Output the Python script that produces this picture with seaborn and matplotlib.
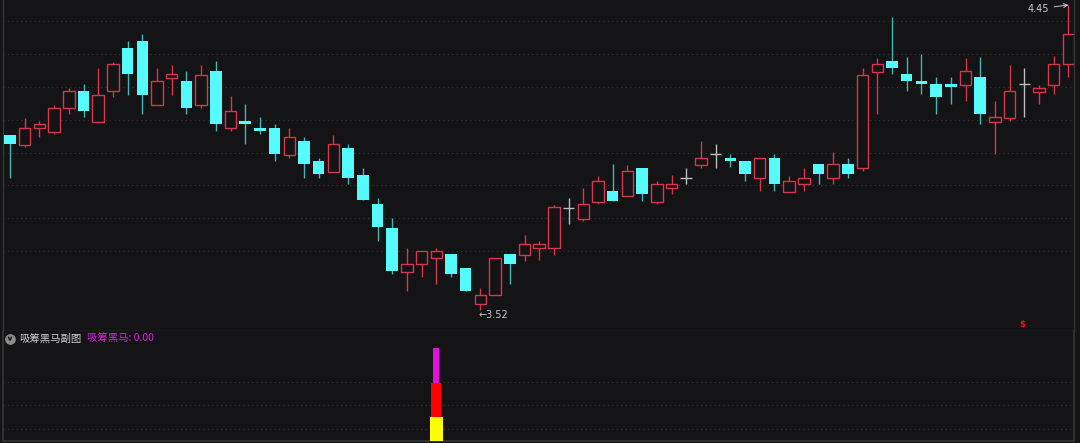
import numpy as np
import pandas as pd
import seaborn as sns
import matplotlib
matplotlib.use("Agg")
import matplotlib.pyplot as plt

# daily prices
opens = [4.054, 4.023, 4.075, 4.063, 4.136, 4.188, 4.093, 4.188, 4.319, 4.340,
         4.145, 4.227, 4.218, 4.145, 4.249, 4.075, 4.096, 4.075, 4.075, 3.993,
         4.035, 3.974, 3.941, 4.014, 3.932, 3.843, 3.770, 3.636, 3.660, 3.679,
         3.691, 3.648, 3.538, 3.566, 3.691, 3.688, 3.709, 3.709, 3.831, 3.797,
         3.849, 3.883, 3.868, 3.953, 3.849, 3.892, 3.922, 3.962, 3.996, 3.983,
         3.974, 3.922, 3.983, 3.880, 3.904, 3.965, 3.922, 3.965, 3.953, 4.246,
         4.279, 4.240, 4.218, 4.209, 4.209, 4.206, 4.230, 4.093, 4.105, 4.209,
         4.185, 4.206, 4.270]
closes = [4.026, 4.075, 4.087, 4.136, 4.188, 4.127, 4.176, 4.270, 4.240, 4.176,
          4.218, 4.240, 4.136, 4.237, 4.087, 4.127, 4.087, 4.066, 3.996, 4.048,
          3.965, 3.935, 4.026, 3.922, 3.855, 3.773, 3.639, 3.660, 3.700, 3.700,
          3.630, 3.578, 3.566, 3.679, 3.660, 3.721, 3.721, 3.834, 3.831, 3.843,
          3.913, 3.852, 3.944, 3.874, 3.904, 3.904, 3.922, 3.983, 3.996, 3.974,
          3.935, 3.983, 3.904, 3.913, 3.922, 3.935, 3.965, 3.935, 4.237, 4.270,
          4.258, 4.218, 4.209, 4.169, 4.200, 4.249, 4.118, 4.108, 4.188, 4.209,
          4.197, 4.270, 4.362]
highs = [4.054, 4.105, 4.096, 4.145, 4.197, 4.209, 4.258, 4.276, 4.340, 4.362,
         4.258, 4.267, 4.249, 4.267, 4.279, 4.172, 4.148, 4.108, 4.087, 4.075,
         4.048, 3.983, 4.054, 4.026, 3.953, 3.862, 3.801, 3.709, 3.700, 3.709,
         3.691, 3.648, 3.587, 3.679, 3.691, 3.749, 3.730, 3.840, 3.862, 3.892,
         3.929, 3.965, 3.962, 3.953, 3.913, 3.932, 3.953, 4.035, 4.026, 3.996,
         3.974, 3.983, 3.996, 3.929, 3.953, 3.965, 4.002, 3.983, 4.258, 4.288,
         4.413, 4.291, 4.301, 4.230, 4.230, 4.288, 4.291, 4.157, 4.267, 4.258,
         4.206, 4.294, 4.450]
lows = [3.922, 4.017, 4.048, 4.057, 4.118, 4.108, 4.093, 4.169, 4.176, 4.118,
        4.145, 4.176, 4.118, 4.136, 4.066, 4.066, 4.026, 4.057, 3.974, 3.983,
        3.922, 3.922, 3.941, 3.904, 3.855, 3.730, 3.630, 3.578, 3.621, 3.599,
        3.621, 3.578, 3.520, 3.566, 3.599, 3.669, 3.672, 3.688, 3.782, 3.791,
        3.843, 3.852, 3.868, 3.852, 3.843, 3.874, 3.904, 3.953, 3.953, 3.956,
        3.913, 3.883, 3.883, 3.880, 3.883, 3.904, 3.904, 3.922, 3.944, 4.118,
        4.240, 4.188, 4.179, 4.118, 4.148, 4.157, 4.087, 3.996, 4.096, 4.108,
        4.148, 4.179, 4.230]

# indicator sub-chart (one signal day)
signal_day = [29]
yellow_vals = [24]
red_vals = [58]
magenta_vals = [93]
indicator_name = "吸筹黑马副图"
indicator_label = "吸筹黑马: 0.00"

df = pd.DataFrame({"open": opens, "high": highs, "low": lows, "close": closes})
df["idx"] = np.arange(len(df))

bg = "#141315"
up_col = "#d8364b"
down_col = "#55fbfb"
down_wick = "#44b6b6"
flat_col = "#bdbdbd"
frame_col = "#353535"
grid_col = "#363636"

sns.set_theme(style="dark", rc={"axes.facecolor": bg, "figure.facecolor": bg,
                                "axes.edgecolor": frame_col, "axes.grid": False})
plt.rcParams["font.family"] = ["Noto Sans CJK SC", "DejaVu Sans"]

fig = plt.figure(figsize=(10.8, 4.43), dpi=100)
W, H = 1080, 443
ax = fig.add_axes([3 / W, (H - 331) / H, 1071 / W, 331 / H])
ax2 = fig.add_axes([3 / W, (H - 441) / H, 1071 / W, 110 / H])

step = 14.70
ax.set_xlim((3 - 10) / step, (1074 - 10) / step)
ax.set_ylim(3.456, 4.465)

bw = 0.78
for _, r in df.iterrows():
    x = r["idx"]
    o, c, h, l = r["open"], r["close"], r["high"], r["low"]
    if c > o:
        ax.vlines(x, l, h, color=up_col, lw=1.0, zorder=2)
        ax.bar(x, c - o, bottom=o, width=bw, facecolor=bg, edgecolor=up_col,
               lw=1.0, zorder=3)
    elif c < o:
        ax.vlines(x, l, h, color=down_wick, lw=1.0, zorder=2)
        ax.bar(x, max(o - c, 0.003), bottom=c, width=bw, color=down_col,
               lw=0, zorder=3)
    else:
        ax.vlines(x, l, h, color=flat_col, lw=1.0, zorder=2)
        ax.hlines(o, x - bw / 2, x + bw / 2, color=flat_col, lw=1.0, zorder=3)

# grid and frame
ax.set_yticks(np.arange(3.7, 4.41, 0.1))
ax.set_xticks([])
ax.grid(axis="y", color=grid_col, linestyle=(0, (1, 3)), lw=0.8)
ax.tick_params(axis="y", length=0, labelleft=False)
ax.set_yticks(np.linspace(4.337, 3.584, 8), minor=True)
ax.tick_params(axis="y", which="minor", length=3, color=frame_col, direction="in")
for s in ["left", "right", "bottom"]:
    ax.spines[s].set_visible(True)
    ax.spines[s].set_color(frame_col)
    ax.spines[s].set_linewidth(1.0)
ax.spines["top"].set_visible(False)
ax.spines["bottom"].set_color("#3c3c3c")

# high / low markers
i_hi = int(np.argmax(highs))
i_lo = int(np.argmin(lows))
ax.annotate(f"{max(highs):.2f}", xy=(i_hi, max(highs)),
            xytext=(i_hi - 2.75, max(highs) - 0.012), color="#c8c8c8",
            fontsize=7, va="center", ha="left", family=["DejaVu Sans"],
            arrowprops=dict(arrowstyle="->", color="#c8c8c8", lw=0.7,
                            shrinkA=1, shrinkB=0))
ax.text(i_lo - 0.1, min(lows) - 0.015, f"←{min(lows):.2f}", color="#c8c8c8",
        fontsize=7, va="center", ha="left", family=["DejaVu Sans"])
ax.text(68.9, 3.461, "$", color="#e01818", fontsize=6.5, fontweight="bold",
        ha="center", va="bottom", family=["DejaVu Sans"])

# indicator panel
ax2.set_xlim(ax.get_xlim())
ax2.set_ylim(0, 110)
ax2.bar(signal_day, magenta_vals, width=0.41, color="#e010e0", lw=0, zorder=3)
ax2.bar(signal_day, red_vals, width=0.68, color="#ff0000", lw=0, zorder=4)
ax2.bar(signal_day, yellow_vals, width=0.88, color="#ffff00", lw=0, zorder=5)
ax2.set_yticks([12, 36, 59])
ax2.set_xticks([])
ax2.grid(axis="y", color=grid_col, linestyle=(0, (1, 3)), lw=0.8)
ax2.tick_params(axis="y", length=0, labelleft=False)
for s in ["left", "right", "bottom"]:
    ax2.spines[s].set_visible(True)
    ax2.spines[s].set_color(frame_col)
ax2.spines["top"].set_visible(False)

ax2.scatter([0.0065], [0.927], s=45, color="#8c8c8c", transform=ax2.transAxes,
            zorder=6, clip_on=False)
ax2.plot([0.0050, 0.0065, 0.0080], [0.945, 0.915, 0.945], color="#1a1a1a",
         lw=1.0, transform=ax2.transAxes, zorder=7)
ax2.text(0.0149, 0.927, indicator_name, color="#d2d2d2", fontsize=7.5,
         va="center", ha="left", transform=ax2.transAxes)
ax2.text(0.0784, 0.927, indicator_label, color="#e020e0", fontsize=7.5,
         va="center", ha="left", transform=ax2.transAxes)

fig.savefig("out.png", dpi=100, facecolor=bg)
